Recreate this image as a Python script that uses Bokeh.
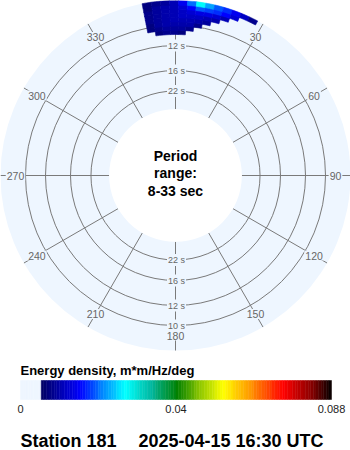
import numpy as np
from bokeh.plotting import figure
from bokeh.models import Range1d, ColumnDataSource
from bokeh.transform import linear_cmap
from bokeh.embed import file_html
from bokeh.resources import INLINE
from bokeh.core.properties import value

# ---------------- data ----------------
freq_low = [0.0925, 0.0960, 0.0995, 0.1030, 0.1065, 0.1100, 0.1135, 0.1170]   # lower band edges, Hz
freq_width = 0.0035
dir_centers = [-9.5, -6.5, -3.5, -0.5, 2.5, 5.5, 8.5, 11.5, 14.5, 17.5, 20.5, 23.5, 26.5]  # deg, from north clockwise
dir_width = 3
#        -9.5   -6.5   -3.5   -0.5   2.5    5.5    8.5    11.5   14.5   17.5   20.5   23.5   26.5
e_r1 = [0,     0.008, 0.009, 0.009, 0.008, 0,     0,     0,     0,     0,     0,     0,     0]
e_r2 = [0.008, 0.009, 0.010, 0.010, 0.010, 0.009, 0,     0,     0,     0,     0,     0,     0]
e_r3 = [0.008, 0.010, 0.011, 0.011, 0.011, 0.011, 0.009, 0,     0,     0,     0,     0,     0]
e_r4 = [0.009, 0.010, 0.011, 0.012, 0.012, 0.012, 0.011, 0.010, 0,     0,     0,     0,     0]
e_r5 = [0.009, 0.010, 0.011, 0.012, 0.013, 0.013, 0.013, 0.012, 0.011, 0,     0,     0,     0]
e_r6 = [0.009, 0.010, 0.011, 0.012, 0.013, 0.014, 0.015, 0.015, 0.014, 0.012, 0,     0,     0]
e_r7 = [0.008, 0.010, 0.011, 0.012, 0.014, 0.017, 0.021, 0.020, 0.019, 0.017, 0.014, 0,     0]
e_r8 = [0.008, 0.009, 0.010, 0.012, 0.016, 0.022, 0.030, 0.025, 0.021, 0.019, 0.016, 0.013, 0.009]
energy_rows = [e_r1, e_r2, e_r3, e_r4, e_r5, e_r6, e_r7, e_r8]

period_rings = [10, 12, 16, 22]          # seconds
period_min, period_max = 8, 33
dir_ticks = [30, 60, 90, 120, 150, 180, 210, 240, 270, 300, 330]
cbar_max = 0.088
cbar_ticks = [0, 0.044, 0.088]
cbar_tick_labels = ["0", "0.04", "0.088"]
cbar_title = "Energy density, m*m/Hz/deg"
station = "Station 181"
stamp = "2025-04-15 16:30 UTC"

# ---------------- styling ----------------
PALE = "#eef6ff"
GRID = "#7a7a7a"
FONT = value("Liberation Sans")
R0, K = 30.0, 1200.0           # radius(px) = R0 + K * frequency
DISK_R = 175

def rad(f):
    return R0 + K * np.asarray(f, dtype=float)

stops_v = [0, 0.00594, 0.00595, 0.017, 0.023, 0.0297, 0.037, 0.0444, 0.051, 0.0574, 0.065, 0.0744, 0.083, 0.088]
stops_c = [PALE, PALE, "#000060", "#0000ff", "#0080ff", "#00ffff", "#00b8a0", "#008000",
           "#90c800", "#ffff00", "#ff9800", "#ff0000", "#800000", "#000000"]
def hex2rgb(h):
    return [int(h[i:i + 2], 16) for i in (1, 3, 5)]
rgb = np.array([hex2rgb(c) for c in stops_c], dtype=float)
vv = (np.arange(256) + 0.5) / 256 * cbar_max
palette = []
for v in vv:
    comp = [np.interp(v, stops_v, rgb[:, k]) for k in range(3)]
    palette.append("#%02x%02x%02x" % tuple(int(round(c)) for c in comp))
cmap = linear_cmap("e", palette, 0, cbar_max)

p = figure(width=350, height=450, output_backend="svg", toolbar_location=None,
           x_range=Range1d(-175, 175), y_range=Range1d(-275, 175), min_border=0)
p.axis.visible = False
p.grid.visible = False
p.outline_line_color = None
p.background_fill_color = "white"
p.border_fill_color = "white"

# pale disk
p.circle(x=[0], y=[0], radius=DISK_R, fill_color=PALE, line_color=None)

# period rings
ring_r = rad(1.0 / np.array(period_rings))
p.circle(x=[0] * len(ring_r), y=[0] * len(ring_r), radius=ring_r, fill_color=None,
         line_color=GRID, line_width=1)

# radial lines
r_in = rad(1.0 / period_max)
all_dirs = np.arange(0, 360, 30)
th = np.deg2rad(all_dirs)
p.segment(x0=r_in * np.sin(th), y0=r_in * np.cos(th), x1=DISK_R * np.sin(th), y1=DISK_R * np.cos(th),
          line_color=GRID, line_width=1)

# direction labels
dt = np.deg2rad(dir_ticks)
p.text(x=160 * np.sin(dt), y=160 * np.cos(dt), text=[str(d) for d in dir_ticks],
       text_align="center", text_baseline="middle", text_font=FONT, text_font_size="10.5px",
       text_color="#666666", background_fill_color=PALE, padding=1)

# period labels (top and bottom)
lab_y = list(ring_r) + list(-ring_r)
lab_t = [f"{t} s" for t in period_rings] * 2
p.text(x=[1] * len(lab_y), y=lab_y, text=lab_t, text_align="center", text_baseline="middle",
       text_font=FONT, text_font_size="9px", text_color="#666666", background_fill_color=PALE, padding=1)

# inner white disk
p.circle(x=[0], y=[0], radius=r_in, fill_color="white", line_color=None)
p.text(x=[0, 0, 0], y=[20, 3, -15], text=["Period", "range:", f"{period_min}-{period_max} sec"],
       text_align="center", text_baseline="middle", text_font=FONT, text_font_size="14px",
       text_font_style="bold", text_color="black")

# energy cells (clipped to the disk edge)
cells = dict(e=[], ri=[], ro=[], a0=[], a1=[])
for fl, row in zip(freq_low, energy_rows):
    for d, e in zip(dir_centers, row):
        if e <= 0:
            continue
        cells["e"].append(e)
        cells["ri"].append(float(rad(fl)))
        cells["ro"].append(min(float(rad(fl + freq_width)) + 0.4, DISK_R))
        cells["a0"].append(90 - (d + dir_width / 2))
        cells["a1"].append(90 - (d - dir_width / 2))
src = ColumnDataSource(cells)
p.annular_wedge(x=0, y=0, inner_radius="ri", outer_radius="ro", start_angle="a0", end_angle="a1",
                start_angle_units="deg", end_angle_units="deg", source=src,
                fill_color=cmap, line_color=cmap, line_width=0.6)

# colour bar (own x range in data units)
px_lo, px_hi = 20, 331
span = cbar_max / (px_hi - px_lo)
p.extra_x_ranges = {"cb": Range1d(-px_lo * span, cbar_max + (350 - px_hi) * span)}
nstep = 120
edges = np.linspace(0, cbar_max, nstep + 1)
cb = ColumnDataSource(dict(l=edges[:-1], r=edges[1:], e=(edges[:-1] + edges[1:]) / 2))
p.quad(left="l", right="r", top=-205, bottom=-224, source=cb, x_range_name="cb",
       fill_color=cmap, line_color=cmap, line_width=0.5)
p.text(x=cbar_ticks, y=[-233] * 3, text=cbar_tick_labels, x_range_name="cb",
       text_align="center", text_baseline="middle", text_font=FONT, text_font_size="11px",
       text_color="#222222")
p.text(x=[0], y=[-195], text=[cbar_title], x_range_name="cb", text_align="left",
       text_baseline="middle", text_font=FONT, text_font_size="13px", text_font_style="bold",
       text_color="black")
p.text(x=[-155, -37], y=[-265, -265], text=[station, stamp], text_align="left",
       text_baseline="middle", text_font=FONT, text_font_size="18px", text_font_style="bold",
       text_color="black")

open("out.html", "w").write(file_html(p, INLINE))
